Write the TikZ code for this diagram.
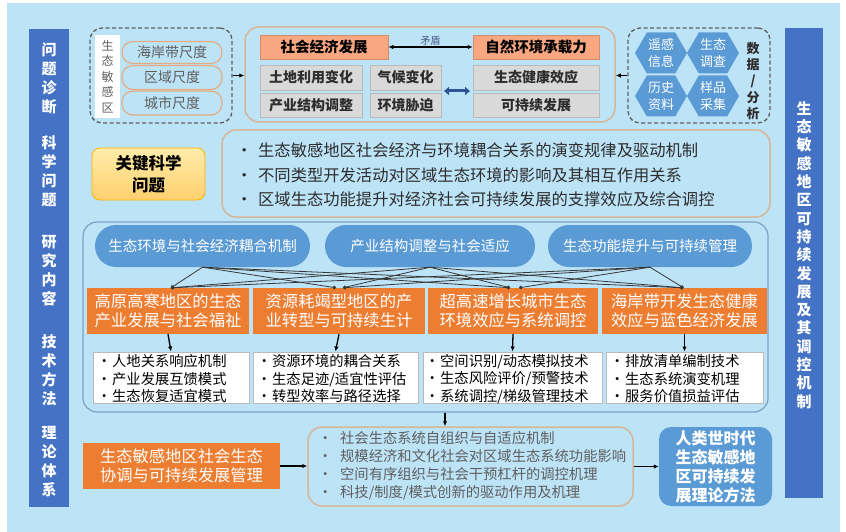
\documentclass[tikz,border=0pt]{standalone}
\usepackage{fontspec}
\setmainfont{Noto Sans CJK SC}
\usetikzlibrary{arrows.meta,shapes.symbols,shapes.geometric}
\newcommand{\myfs}[2]{\fontsize{#1}{#2}\selectfont}
\definecolor{bgblue}{RGB}{189,227,247}
\definecolor{barblue}{RGB}{68,114,196}
\definecolor{pillblue}{RGB}{91,155,213}
\definecolor{orangec}{RGB}{237,125,49}
\definecolor{salmon}{RGB}{248,167,128}
\definecolor{grayfill}{RGB}{217,217,217}
\definecolor{grayborder}{RGB}{185,185,185}
\definecolor{tanc}{RGB}{214,182,152}
\definecolor{pillborder}{RGB}{228,172,130}
\definecolor{dashgray}{RGB}{95,95,95}
\definecolor{textgray}{RGB}{95,95,95}
\definecolor{darktext}{RGB}{45,45,45}
\definecolor{rcborder}{RGB}{125,160,195}
\definecolor{arrowblue}{RGB}{47,85,151}
\definecolor{labelc}{RGB}{70,90,130}
\definecolor{connc}{RGB}{55,55,55}
\begin{document}
\begin{tikzpicture}[x=1pt,y=-1pt,
  bar/.style={fill=barblue, draw=none, inner sep=0},
  bartext/.style={text=white, font=\myfs{15}{19}\bfseries, align=center, inner sep=0},
  dashbox/.style={draw=dashgray, dash pattern=on 4pt off 2.5pt, line width=1.3pt, rounded corners=12pt, inner sep=0},
  pill/.style={draw=pillborder, line width=1.2pt, rounded corners=11pt, inner sep=0, font=\myfs{14}{16}, text=textgray, minimum width=100pt},
  tanbox/.style={draw=tanc, line width=1.5pt, rounded corners=14pt, inner sep=0},
  salbox/.style={fill=salmon, draw=salmon!85!black, line width=0.5pt, inner sep=0, font=\myfs{14.5}{16}\bfseries, text=black, minimum height=24pt},
  graybox/.style={fill=grayfill, draw=grayborder, line width=0.8pt, inner sep=0, font=\myfs{14}{16}\bfseries, text=darktext},
  hexnode/.style={signal, signal to=west and east, signal pointer angle=120, fill=pillblue, inner sep=0, minimum width=52pt, minimum height=41pt, text=white, font=\myfs{13}{17}, align=center},
  ellip/.style={fill=pillblue, rounded corners=21pt, inner sep=0, minimum height=42pt, text=white, font=\myfs{14.5}{16}},
  obox/.style={fill=orangec, inner sep=0, minimum height=46pt, text=white, font=\myfs{16.3}{19.5}, align=center},
  wbox/.style={fill=white, draw=grayborder, line width=1pt, inner sep=0, minimum height=51pt},
  wtext/.style={anchor=west, inner sep=0, align=left, font=\myfs{14.3}{17.5}, text=black},
  arr/.style={-{Latex[length=5pt,width=4.5pt]}, line width=1.3pt, black},
  conn/.style={-{Circle[length=3.5pt]}, line width=0.8pt, connc}
]
\useasboundingbox (0,0) rectangle (846,532);
\fill[white] (0,0) rectangle (846,532);
\fill[bgblue] (7,3) rectangle (840,532);

% side bars
\node[bar, minimum width=40pt, minimum height=478pt] (lbar) at (49,268) {};
\node[bartext] (lb1) at (49,78) {问\\题\\诊\\断};
\node[bartext] (lb2) at (49,171) {科\\学\\问\\题};
\node[bartext] (lb3) at (49,271) {研\\究\\内\\容};
\node[bartext] (lb4) at (49,370) {技\\术\\方\\法};
\node[bartext] (lb5) at (49,462) {理\\论\\体\\系};

\node[bar, minimum width=38pt, minimum height=470pt] (rbar) at (804,263) {};
\node[bartext, font=\myfs{15}{18.3}\bfseries] (rbt) at (804,255) {生\\态\\敏\\感\\地\\区\\可\\持\\续\\发\\展\\及\\其\\调\\控\\机\\制};

% left dashed box
\node[dashbox, minimum width=142pt, minimum height=95pt] (dash1) at (161,75.5) {};
\node[fill=white, inner sep=0, minimum width=25pt, minimum height=83pt, font=\myfs{12}{15.5}, text=textgray, align=center] (strip) at (107.5,76.5) {生\\态\\敏\\感\\区};
\node[pill, minimum height=22pt] (p1) at (172,52.5) {海岸带尺度};
\node[pill, minimum height=24pt] (p2) at (172,77.5) {区域尺度};
\node[pill, minimum height=24pt] (p3) at (172,103) {城市尺度};

% middle top box
\node[tanbox, minimum width=370pt, minimum height=95pt] (mid) at (430,74.5) {};
\node[salbox, minimum width=128pt] (se) at (324,47) {社会经济发展};
\node[salbox, minimum width=126pt] (ne) at (536,47) {自然环境承载力};
\node[graybox, minimum width=102pt, minimum height=25pt] (g1) at (311,77.5) {土地利用变化};
\node[graybox, minimum width=71pt, minimum height=25pt] (g2) at (405.5,77.5) {气候变化};
\node[graybox, minimum width=102pt, minimum height=24pt] (g3) at (311,105) {产业结构调整};
\node[graybox, minimum width=71pt, minimum height=24pt] (g4) at (405.5,105) {环境胁迫};
\node[graybox, minimum width=126pt, minimum height=25pt] (g5) at (536,77.5) {生态健康效应};
\node[graybox, minimum width=126pt, minimum height=24pt] (g6) at (536,105) {可持续发展};
\draw[{Latex[length=5pt,width=4.5pt]}-{Latex[length=5pt,width=4.5pt]}, line width=1.2pt] (se.east) -- node[above=0pt, font=\myfs{10}{12}, text=labelc, inner sep=1pt] (mlabel) {矛盾} (ne.west);
\coordinate (ba1) at (444,91);
\coordinate (ba2) at (470,91);
\draw[{Triangle[length=5pt,width=8pt]}-{Triangle[length=5pt,width=8pt]}, line width=3pt, arrowblue] (ba1) -- (ba2);

% right dashed box
\node[dashbox, minimum width=142pt, minimum height=95pt] (dash2) at (699,75.5) {};
\node[hexnode] (h1) at (661,53) {遥感\\信息};
\node[hexnode] (h2) at (713,53) {生态\\调查};
\node[hexnode] (h3) at (661,96) {历史\\资料};
\node[hexnode] (h4) at (713,96) {样品\\采集};
\node[inner sep=0, font=\myfs{13}{16.3}\bfseries, text=darktext, align=center] (sj) at (753,81) {数\\据\\/\\分\\析};

\draw[arr] (dash1.east) -- (dash1.east -| mid.west);
\draw[arr] (dash2.west) -- (dash2.west -| mid.east);

% key questions
\node[draw=orange!60!yellow, line width=0.8pt, top color={rgb,255:red,255;green,236;blue,170}, bottom color={rgb,255:red,255;green,208;blue,110}, rounded corners=8pt, inner sep=0, minimum width=113pt, minimum height=52pt, font=\myfs{16.5}{22}\bfseries, align=center] (key) at (148.5,174) {关键科学\\问题};
\node[tanbox, minimum width=548pt, minimum height=87pt] (kq) at (496,173.5) {};
\node[wtext, font=\myfs{16.3}{18}, text=darktext] (kq1) at (236,150) {\makebox[22pt][l]{•}生态敏感地区社会经济与环境耦合关系的演变规律及驱动机制};
\node[wtext, font=\myfs{16.3}{18}, text=darktext] (kq2) at (236,175) {\makebox[22pt][l]{•}不同类型开发活动对区域生态环境的影响及其相互作用关系};
\node[wtext, font=\myfs{16.3}{18}, text=darktext] (kq3) at (236,199) {\makebox[22pt][l]{•}区域生态功能提升对经济社会可持续发展的支撑效应及综合调控};

% research content
\node[draw=rcborder, line width=1.2pt, rounded corners=14pt, inner sep=0, minimum width=685pt, minimum height=190pt] (rc) at (425.5,317) {};
\node[ellip, minimum width=215pt] (e1) at (202.5,246) {生态环境与社会经济耦合机制};
\node[ellip, minimum width=210pt] (e2) at (430,246) {产业结构调整与社会适应};
\node[ellip, minimum width=204pt] (e3) at (650,246) {生态功能提升与可持续管理};

\node[obox, minimum width=162pt] (o1) at (168,311) {高原高寒地区的生态\\产业发展与社会福祉};
\node[obox, minimum width=172pt] (o2) at (339,311) {资源耗竭型地区的产\\业转型与可持续生计};
\node[obox, minimum width=170pt] (o3) at (513,311) {超高速增长城市生态\\环境效应与系统调控};
\node[obox, minimum width=165pt] (o4) at (684.5,311) {海岸带开发生态健康\\效应与蓝色经济发展};

\foreach \e/\o/\s in {e1/o1/3, e2/o1/3, e3/o1/3, e1/o2/-3, e2/o2/4, e3/o2/4, e1/o3/-3, e2/o3/-3, e3/o3/6, e1/o4/-1, e2/o4/-1, e3/o4/-1}
  \draw[conn] (\e.south) -- ([xshift=\s pt]\o.north);

\node[wbox, minimum width=156pt] (w1) at (171,377.5) {};
\node[wbox, minimum width=165pt] (w2) at (335.5,377.5) {};
\node[wbox, minimum width=179pt] (w3) at (512.5,377.5) {};
\node[wbox, minimum width=157pt] (w4) at (684.5,377.5) {};
\node[wtext] (w1t) at (97,379) {\makebox[15pt][l]{•}人地关系响应机制\\\makebox[15pt][l]{•}产业发展互馈模式\\\makebox[15pt][l]{•}生态恢复适宜模式};
\node[wtext] (w2t) at (257,379) {\makebox[15pt][l]{•}资源环境的耦合关系\\\makebox[15pt][l]{•}生态足迹/适宜性评估\\\makebox[15pt][l]{•}转型效率与路径选择};
\node[wtext] (w3t) at (425,379) {\makebox[15pt][l]{•}空间识别/动态模拟技术\\\makebox[15pt][l]{•}生态风险评价/预警技术\\\makebox[15pt][l]{•}系统调控/梯级管理技术};
\node[wtext] (w4t) at (610,379) {\makebox[15pt][l]{•}排放清单编制技术\\\makebox[15pt][l]{•}生态系统演变机理\\\makebox[15pt][l]{•}服务价值损益评估};

\foreach \i in {1,2,3,4}
  \draw[arr] (o\i.south) -- (w\i.north);

% bottom row
\node[obox, minimum width=197pt] (ob) at (181.5,466) {生态敏感地区社会生态\\协调与可持续发展管理};
\node[tanbox, minimum width=325pt, minimum height=79pt] (bb) at (470.5,466.5) {};
\node[wtext, font=\myfs{14.3}{18}, text=textgray] (bbt) at (318,465.5) {\makebox[22pt][l]{•}社会生态系统自组织与自适应机制\\\makebox[22pt][l]{•}规模经济和文化社会对区域生态系统功能影响\\\makebox[22pt][l]{•}空间有序组织与社会干预杠杆的调控机理\\\makebox[22pt][l]{•}科技/制度/模式创新的驱动作用及机理};
\node[fill=pillblue, rounded corners=12pt, inner sep=0, minimum width=113pt, minimum height=79pt, text=white, font=\myfs{16}{19}\bfseries, align=center] (tb) at (715.5,466.5) {人类世时代\\生态敏感地\\区可持续发\\展理论方法};

\coordinate (axx) at (445,0);
\draw[arr] (axx |- rc.south) -- (axx |- bb.north);
\draw[arr] (ob.east) -- (ob.east -| bb.west);
\draw[arr] (bb.east) -- (bb.east -| tb.west);
\end{tikzpicture}
\end{document}
